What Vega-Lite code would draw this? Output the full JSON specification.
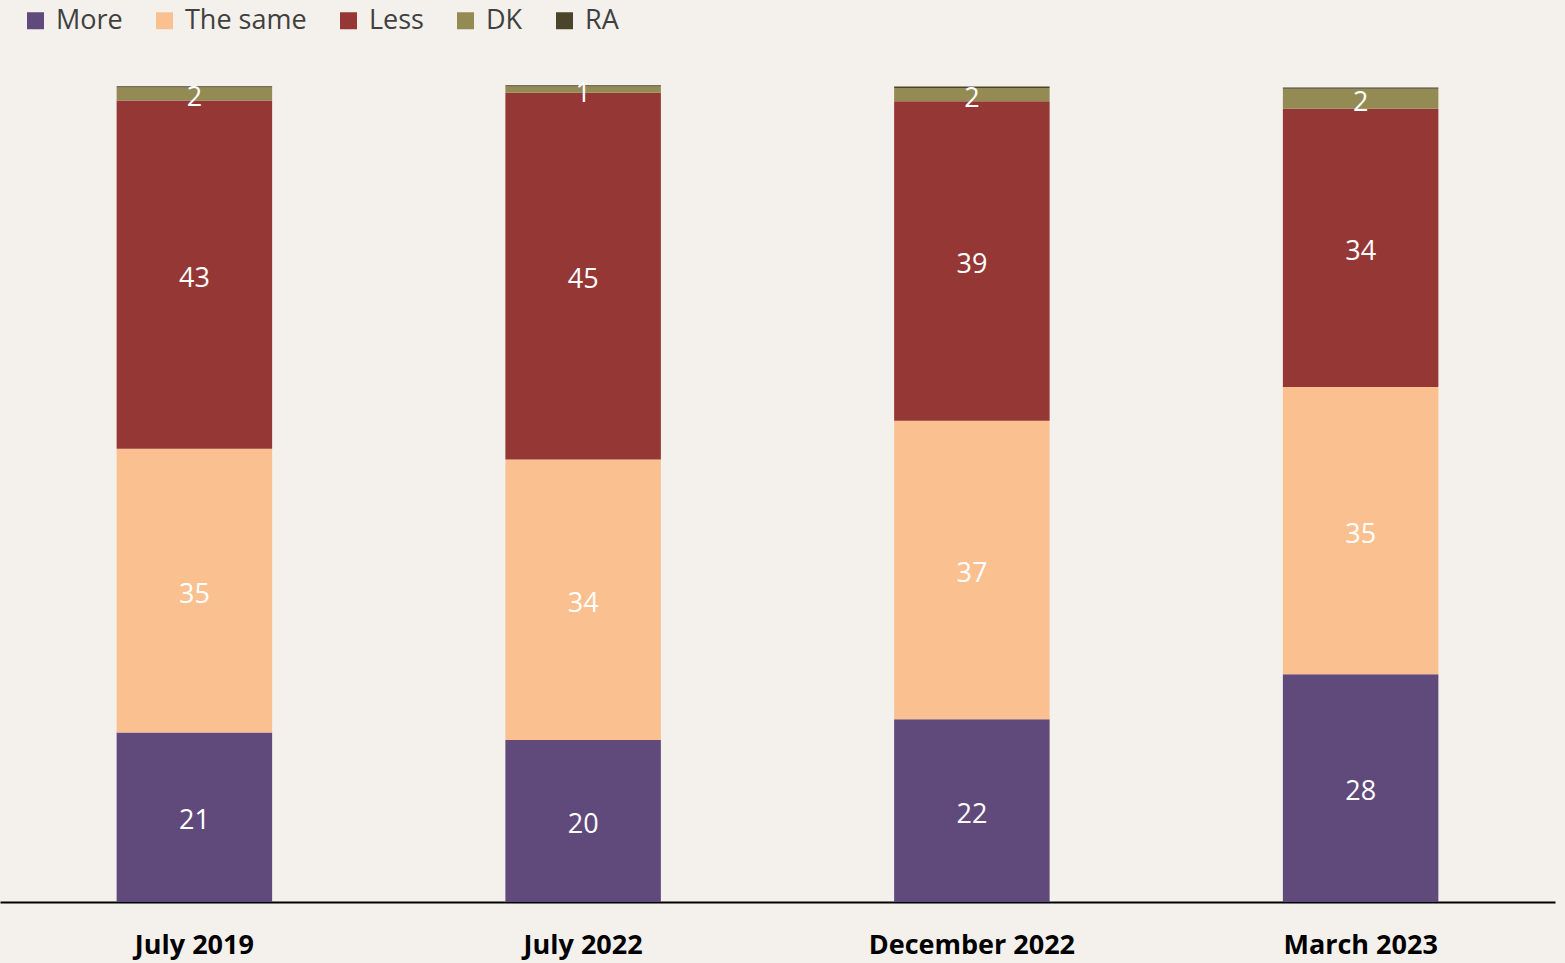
{
  "$schema": "https://vega.github.io/schema/vega-lite/v6.json",
  "width": 1555,
  "height": 816,
  "autosize": "none",
  "padding": {"left": 0, "top": 86, "right": 10, "bottom": 61},
  "background": "#F4F1EC",
  "config": {"view": {"stroke": null}, "font": "Open Sans"},
  "data": {
    "values": [
      {"date": "July 2019", "response": "More", "value": 20.78},
      {"date": "July 2019", "response": "The same", "value": 34.78},
      {"date": "July 2019", "response": "Less", "value": 42.66},
      {"date": "July 2019", "response": "DK", "value": 1.59},
      {"date": "July 2019", "response": "RA", "value": 0.16},
      {"date": "July 2022", "response": "More", "value": 19.84},
      {"date": "July 2022", "response": "The same", "value": 34.38},
      {"date": "July 2022", "response": "Less", "value": 44.95},
      {"date": "July 2022", "response": "DK", "value": 0.77},
      {"date": "July 2022", "response": "RA", "value": 0.16},
      {"date": "December 2022", "response": "More", "value": 22.41},
      {"date": "December 2022", "response": "The same", "value": 36.58},
      {"date": "December 2022", "response": "Less", "value": 39.14},
      {"date": "December 2022", "response": "DK", "value": 1.64},
      {"date": "December 2022", "response": "RA", "value": 0.16},
      {"date": "March 2023", "response": "More", "value": 27.92},
      {"date": "March 2023", "response": "The same", "value": 35.19},
      {"date": "March 2023", "response": "Less", "value": 34.1},
      {"date": "March 2023", "response": "DK", "value": 2.45},
      {"date": "March 2023", "response": "RA", "value": 0.16}
    ]
  },
  "transform": [
    {"calculate": "indexof(['More','The same','Less','DK','RA'], datum.response)", "as": "k"},
    {"stack": "value", "groupby": ["date"], "sort": [{"field": "k", "order": "ascending"}], "as": ["y0", "y1"]},
    {"calculate": "(datum.y0 + datum.y1) / 2", "as": "ymid"}
  ],
  "encoding": {
    "x": {
      "field": "date",
      "type": "nominal",
      "sort": ["July 2019", "July 2022", "December 2022", "March 2023"],
      "scale": {"paddingInner": 0.6, "paddingOuter": 0.3},
      "axis": {
        "title": null,
        "labelAngle": 0,
        "ticks": false,
        "grid": false,
        "domainColor": "#000000",
        "domainWidth": 2,
        "labelFont": "Open Sans",
        "labelFontSize": 27,
        "labelFontWeight": "bold",
        "labelColor": "#000000",
        "labelPadding": 30,
        "labelLimit": 0
      }
    }
  },
  "layer": [
    {
      "mark": {"type": "bar"},
      "encoding": {
        "y": {"field": "y0", "type": "quantitative", "scale": {"domain": [0, 100], "nice": false}, "axis": null},
        "y2": {"field": "y1"},
        "color": {
          "field": "response",
          "type": "nominal",
          "sort": ["More", "The same", "Less", "DK", "RA"],
          "scale": {
            "domain": ["More", "The same", "Less", "DK", "RA"],
            "range": ["#604A7B", "#FAC090", "#953735", "#948A54", "#4A452A"]
          },
          "legend": {
            "title": null,
            "orient": "none",
            "direction": "horizontal",
            "legendX": 22,
            "legendY": -79,
            "symbolType": "square",
            "symbolSize": 289,
            "symbolStrokeWidth": 0,
            "symbolOpacity": 1,
            "labelFont": "Open Sans",
            "labelFontSize": 27,
            "labelColor": "#404040",
            "labelOffset": 7,
            "columnPadding": 28,
            "padding": 0,
            "labelLimit": 0
          }
        }
      }
    },
    {
      "transform": [{"filter": "datum.response != 'RA'"}],
      "mark": {"type": "text", "color": "#FFFFFF", "font": "Open Sans", "fontSize": 27, "baseline": "middle", "align": "center", "dy": 4},
      "encoding": {
        "y": {"field": "ymid", "type": "quantitative"},
        "text": {"field": "value", "type": "quantitative", "format": ".0f"}
      }
    }
  ]
}
